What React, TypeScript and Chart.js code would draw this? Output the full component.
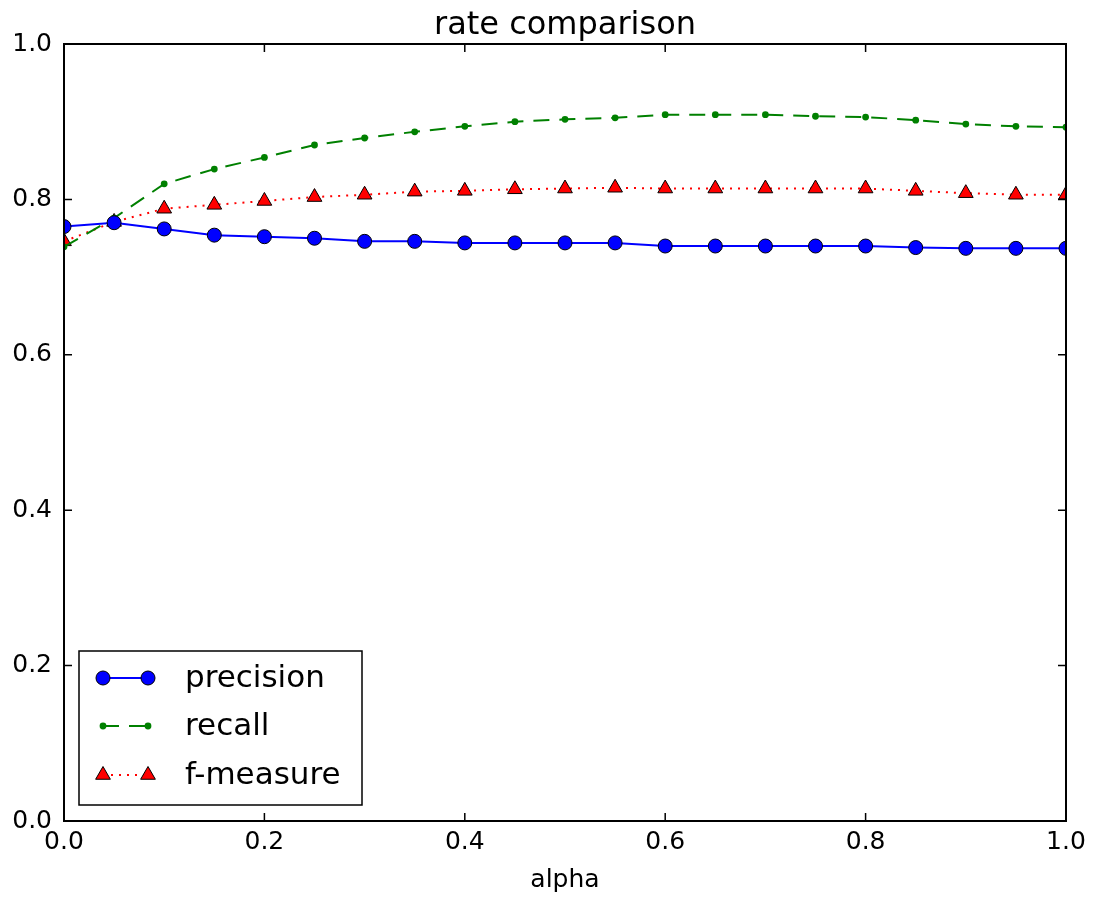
import React, { useEffect, useRef } from "react";
import { Chart, registerables } from "chart.js";

Chart.register(...registerables);

const alpha = [0, 0.05, 0.1, 0.15, 0.2, 0.25, 0.3, 0.35, 0.4, 0.45, 0.5, 0.55, 0.6, 0.65, 0.7, 0.75, 0.8, 0.85, 0.9, 0.95, 1.0];
const precision = [0.765, 0.770, 0.762, 0.754, 0.752, 0.750, 0.746, 0.746, 0.744, 0.744, 0.744, 0.744, 0.740, 0.740, 0.740, 0.740, 0.740, 0.738, 0.737, 0.737, 0.737];
const recall = [0.739, 0.776, 0.820, 0.839, 0.854, 0.870, 0.879, 0.887, 0.894, 0.900, 0.903, 0.905, 0.909, 0.909, 0.909, 0.907, 0.906, 0.902, 0.897, 0.894, 0.893];
const fmeasure = [0.746, 0.771, 0.788, 0.793, 0.798, 0.803, 0.806, 0.810, 0.811, 0.813, 0.814, 0.815, 0.814, 0.814, 0.814, 0.814, 0.814, 0.811, 0.808, 0.806, 0.806];
const seriesLabels = ["precision", "recall", "f-measure"];
const titleText = "rate comparison";
const xLabel = "alpha";
const tickValues = [0, 0.2, 0.4, 0.6, 0.8, 1.0];

const FONT = "'DejaVu Sans', sans-serif";
const DASH = [16, 10];
const DOT = [2, 6];

function drawTriangle(ctx: CanvasRenderingContext2D, x: number, y: number, r: number) {
  ctx.beginPath();
  const s = Math.sin((2 * Math.PI) / 3) * r;
  ctx.moveTo(x, y - r);
  ctx.lineTo(x + s, y + r / 2);
  ctx.lineTo(x - s, y + r / 2);
  ctx.closePath();
  ctx.fill();
  ctx.stroke();
}

function drawCircle(ctx: CanvasRenderingContext2D, x: number, y: number, r: number, stroke: boolean) {
  ctx.beginPath();
  ctx.arc(x, y, r, 0, Math.PI * 2);
  ctx.fill();
  if (stroke) ctx.stroke();
}

const decorPlugin = {
  id: "decor",
  afterDatasetsDraw(chart: any) {
    const ctx: CanvasRenderingContext2D = chart.ctx;
    const a = chart.chartArea;
    const xs = chart.scales.x;
    const ys = chart.scales.y;
    ctx.save();
    ctx.strokeStyle = "#000";
    ctx.lineWidth = 1.5;
    const tl = 8;
    tickValues.forEach((v) => {
      const px = xs.getPixelForValue(v);
      ctx.beginPath();
      ctx.moveTo(px, a.bottom);
      ctx.lineTo(px, a.bottom - tl);
      ctx.moveTo(px, a.top);
      ctx.lineTo(px, a.top + tl);
      ctx.stroke();
      const py = ys.getPixelForValue(v);
      ctx.beginPath();
      ctx.moveTo(a.left, py);
      ctx.lineTo(a.left + tl, py);
      ctx.moveTo(a.right, py);
      ctx.lineTo(a.right - tl, py);
      ctx.stroke();
    });
    ctx.lineWidth = 2;
    ctx.strokeRect(a.left, a.top, a.right - a.left, a.bottom - a.top);

    ctx.fillStyle = "#000";
    ctx.font = `32px ${FONT}`;
    ctx.textAlign = "center";
    ctx.textBaseline = "alphabetic";
    ctx.fillText(titleText, (a.left + a.right) / 2, 34);
    ctx.font = `25px ${FONT}`;
    ctx.fillText(xLabel, (a.left + a.right) / 2, 887);

    const bx = 79, by = 651, bw = 283, bh = 154;
    ctx.fillStyle = "#fff";
    ctx.fillRect(bx, by, bw, bh);
    ctx.strokeStyle = "#000";
    ctx.lineWidth = 1.5;
    ctx.strokeRect(bx, by, bw, bh);
    const x1 = 103, x2 = 148, tx = 185;
    const rows = [678, 726, 775];
    ctx.setLineDash([]);
    ctx.strokeStyle = "#0000ff";
    ctx.lineWidth = 2;
    ctx.beginPath();
    ctx.moveTo(x1, rows[0]);
    ctx.lineTo(x2, rows[0]);
    ctx.stroke();
    ctx.fillStyle = "#0000ff";
    ctx.strokeStyle = "#000";
    ctx.lineWidth = 1;
    drawCircle(ctx, x1, rows[0], 7, true);
    drawCircle(ctx, x2, rows[0], 7, true);
    ctx.setLineDash(DASH);
    ctx.strokeStyle = "#008000";
    ctx.lineWidth = 2;
    ctx.beginPath();
    ctx.moveTo(x1, rows[1]);
    ctx.lineTo(x2, rows[1]);
    ctx.stroke();
    ctx.setLineDash([]);
    ctx.fillStyle = "#008000";
    drawCircle(ctx, x1, rows[1], 3.4, false);
    drawCircle(ctx, x2, rows[1], 3.4, false);
    ctx.setLineDash(DOT);
    ctx.strokeStyle = "#ff0000";
    ctx.lineWidth = 2;
    ctx.beginPath();
    ctx.moveTo(x1, rows[2]);
    ctx.lineTo(x2, rows[2]);
    ctx.stroke();
    ctx.setLineDash([]);
    ctx.fillStyle = "#ff0000";
    ctx.strokeStyle = "#000";
    ctx.lineWidth = 1;
    drawTriangle(ctx, x1, rows[2], 8.5);
    drawTriangle(ctx, x2, rows[2], 8.5);
    ctx.fillStyle = "#000";
    ctx.font = `31px ${FONT}`;
    ctx.textAlign = "left";
    ctx.textBaseline = "middle";
    seriesLabels.forEach((l, i) => ctx.fillText(l, tx, rows[i] + 1));
    ctx.restore();
  },
};

export default function App() {
  const ref = useRef<HTMLCanvasElement | null>(null);
  useEffect(() => {
    if (!ref.current) return;
    const mk = (vals: number[]) => vals.map((v, i) => ({ x: alpha[i], y: v }));
    const chart = new Chart(ref.current, {
      type: "line",
      data: {
        datasets: [
          {
            label: seriesLabels[0],
            data: mk(precision),
            borderColor: "#0000ff",
            backgroundColor: "#0000ff",
            borderWidth: 2,
            pointStyle: "circle",
            pointRadius: 7,
            pointBackgroundColor: "#0000ff",
            pointBorderColor: "#000",
            pointBorderWidth: 1,
            tension: 0,
            clip: 0,
          },
          {
            label: seriesLabels[1],
            data: mk(recall),
            borderColor: "#008000",
            backgroundColor: "#008000",
            borderWidth: 2,
            borderDash: DASH,
            pointStyle: "circle",
            pointRadius: 3.4,
            pointBackgroundColor: "#008000",
            pointBorderColor: "#008000",
            pointBorderWidth: 0,
            tension: 0,
            clip: 0,
          },
          {
            label: seriesLabels[2],
            data: mk(fmeasure),
            borderColor: "#ff0000",
            backgroundColor: "#ff0000",
            borderWidth: 2,
            borderDash: DOT,
            pointStyle: "triangle",
            pointRadius: 8.5,
            pointBackgroundColor: "#ff0000",
            pointBorderColor: "#000",
            pointBorderWidth: 1,
            tension: 0,
            clip: 0,
          },
        ],
      } as any,
      options: {
        animation: false,
        responsive: false,
        devicePixelRatio: 1,
        layout: { padding: { top: 44, right: 29, left: 0, bottom: 0 } },
        plugins: {
          legend: { display: false },
          title: { display: false },
          tooltip: { enabled: false },
        },
        scales: {
          x: {
            type: "linear",
            min: 0,
            max: 1,
            grid: { display: false },
            border: { display: false },
            afterFit: (s: any) => {
              s.height = 78;
            },
            afterBuildTicks: (s: any) => {
              s.ticks = tickValues.map((v) => ({ value: v }));
            },
            ticks: {
              padding: -2,
              color: "#000",
              font: { family: FONT, size: 25 },
              maxRotation: 0,
              callback: (v: any) => Number(v).toFixed(1),
            },
          },
          y: {
            type: "linear",
            min: 0,
            max: 1,
            grid: { display: false },
            border: { display: false },
            afterFit: (s: any) => {
              s.width = 64;
            },
            afterBuildTicks: (s: any) => {
              s.ticks = tickValues.map((v) => ({ value: v }));
            },
            ticks: {
              padding: 4,
              color: "#000",
              font: { family: FONT, size: 25 },
              callback: (v: any) => Number(v).toFixed(1),
            },
          },
        },
      } as any,
      plugins: [decorPlugin],
    });
    return () => chart.destroy();
  }, []);
  return (
    <div style={{ position: "fixed", left: 0, top: 0, width: 1095, height: 899, background: "#fff" }}>
      <canvas ref={ref} width={1095} height={899} style={{ width: 1095, height: 899, display: "block" }} />
    </div>
  );
}
